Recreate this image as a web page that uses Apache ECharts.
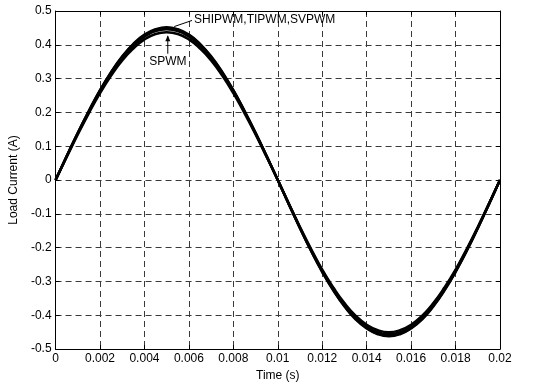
<!DOCTYPE html>
<html>
<head>
<meta charset="utf-8">
<script src="https://cdn.jsdelivr.net/npm/echarts@6/dist/echarts.min.js"></script>
<style>html,body{margin:0;padding:0;background:#fff;}#c{width:537px;height:387px;}</style>
</head>
<body>
<div id="c"></div>
<script>
const times = [0,0.0005,0.001,0.0015,0.002,0.0025,0.003,0.0035,0.004,0.0045,0.005,0.0055,0.006,0.0065,0.007,0.0075,0.008,0.0085,0.009,0.0095,0.01,0.0105,0.011,0.0115,0.012,0.0125,0.013,0.0135,0.014,0.0145,0.015,0.0155,0.016,0.0165,0.017,0.0175,0.018,0.0185,0.019,0.0195,0.02];
const spwm = [0,0.068,0.135,0.198,0.257,0.309,0.354,0.389,0.416,0.432,0.437,0.432,0.416,0.389,0.354,0.309,0.257,0.198,0.135,0.068,0,-0.070,-0.139,-0.204,-0.265,-0.318,-0.364,-0.401,-0.428,-0.444,-0.450,-0.444,-0.428,-0.401,-0.364,-0.318,-0.265,-0.204,-0.139,-0.070,0];
const shipwm = [0,0.071,0.140,0.205,0.266,0.320,0.366,0.403,0.430,0.446,0.452,0.446,0.430,0.403,0.366,0.320,0.266,0.205,0.140,0.071,0,-0.072,-0.143,-0.210,-0.272,-0.327,-0.374,-0.412,-0.439,-0.456,-0.462,-0.456,-0.439,-0.412,-0.374,-0.327,-0.272,-0.210,-0.143,-0.072,0];
const tipwm = [0,0.070,0.139,0.204,0.265,0.318,0.364,0.401,0.428,0.444,0.450,0.444,0.428,0.401,0.364,0.318,0.265,0.204,0.139,0.070,0,-0.072,-0.142,-0.209,-0.270,-0.325,-0.372,-0.410,-0.437,-0.454,-0.460,-0.454,-0.437,-0.410,-0.372,-0.325,-0.270,-0.209,-0.142,-0.072,0];
const svpwm = [0,0.070,0.138,0.202,0.262,0.315,0.361,0.397,0.424,0.441,0.446,0.441,0.424,0.397,0.361,0.315,0.262,0.202,0.138,0.070,0,-0.071,-0.141,-0.207,-0.268,-0.322,-0.369,-0.406,-0.434,-0.450,-0.456,-0.450,-0.434,-0.406,-0.369,-0.322,-0.268,-0.207,-0.141,-0.071,0];
const xTicks = ['0','0.002','0.004','0.006','0.008','0.01','0.012','0.014','0.016','0.018','0.02'];
const yTicks = ['-0.5','-0.4','-0.3','-0.2','-0.1','0','0.1','0.2','0.3','0.4','0.5'];
const seriesNames = ['SPWM','SHIPWM','TIPWM','SVPWM'];
const seriesVals = [spwm, shipwm, tipwm, svpwm];

const FONT = "'Liberation Sans', Arial, Helvetica, sans-serif";
const chart = echarts.init(document.getElementById('c'), null, {renderer:'canvas'});
const grid = {left:54, right:37, top:11, bottom:28};
const dashed = {show:true, lineStyle:{color:'#3a3a3a', type:[6,4], width:1}};
const axisCommon = {
  axisLine:{show:true, onZero:false, lineStyle:{color:'#000', width:1}},
  axisTick:{show:true, inside:true, length:4, lineStyle:{color:'#000'}},
  axisLabel:{color:'#000', fontSize:12, fontFamily:FONT},
  nameTextStyle:{color:'#000', fontSize:12, fontFamily:FONT}
};
const option = {
  animation:false,
  backgroundColor:'#fff',
  grid:grid,
  xAxis:[
    Object.assign({}, axisCommon, {type:'value', min:0, max:0.02, interval:0.002, position:'bottom',
      name:'Time (s)', nameLocation:'middle', nameGap:18,
      splitLine:dashed,
      axisLabel:Object.assign({}, axisCommon.axisLabel, {margin:4, formatter:(v,i)=>xTicks[i]})}),
    Object.assign({}, axisCommon, {type:'value', min:0, max:0.02, interval:0.002, position:'top',
      splitLine:{show:false}, axisLabel:{show:false}})
  ],
  yAxis:[
    Object.assign({}, axisCommon, {type:'value', min:-0.5, max:0.5, interval:0.1, position:'left',
      name:'Load Current (A)', nameLocation:'middle', nameGap:26, nameRotate:90,
      splitLine:dashed,
      axisLabel:Object.assign({}, axisCommon.axisLabel, {margin:4, formatter:(v,i)=>yTicks[i]})}),
    Object.assign({}, axisCommon, {type:'value', min:-0.5, max:0.5, interval:0.1, position:'right',
      splitLine:{show:false}, axisLabel:{show:false}})
  ],
  series: seriesNames.map((n, si) => ({
    name:n, type:'line', smooth:true, symbol:'none',
    xAxisIndex:0, yAxisIndex:0,
    lineStyle:{color:'#000', width:2.5},
    data: times.map((t, i) => [t, seriesVals[si][i]])
  }))
};
chart.setOption(option);

function px(x, y){ return chart.convertToPixel({gridIndex:0}, [x, y]); }
const a1 = px(0.00614, 0.472), a2 = px(0.00534, 0.454);
const t1 = px(0.00623, 0.474);
const b1 = px(0.00505, 0.3736), b2 = px(0.00505, 0.4253);
const t2 = px(0.00505, 0.3506);
chart.setOption({
  graphic:[
    {type:'line', shape:{x1:a1[0], y1:a1[1], x2:a2[0], y2:a2[1]}, style:{stroke:'#000', lineWidth:1}},
    {type:'text', x:t1[0], y:t1[1], style:{text:'SHIPWM,TIPWM,SVPWM', fill:'#000', font:'12px '+FONT, textAlign:'left', textVerticalAlign:'middle'}},
    {type:'line', shape:{x1:b1[0], y1:b1[1], x2:b2[0], y2:b2[1]}, style:{stroke:'#000', lineWidth:1}},
    {type:'polygon', shape:{points:[[b2[0], b2[1]-1],[b2[0]-2.5, b2[1]+5],[b2[0]+2.5, b2[1]+5]]}, style:{fill:'#000'}},
    {type:'text', x:t2[0], y:t2[1], style:{text:'SPWM', fill:'#000', font:'12px '+FONT, textAlign:'center', textVerticalAlign:'middle'}}
  ]
});
</script>
</body>
</html>
